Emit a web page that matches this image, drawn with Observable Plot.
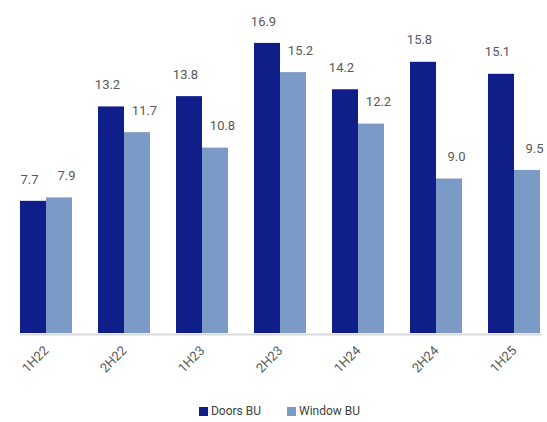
<!DOCTYPE html>
<html>
<head>
<meta charset="utf-8">
<script src="https://cdn.jsdelivr.net/npm/d3@7"></script>
<script src="https://cdn.jsdelivr.net/npm/@observablehq/plot@0.6"></script>
<style>
  html, body { margin: 0; padding: 0; background: #fff; overflow: hidden; }
  #wrap { position: relative; width: 547px; height: 422px; font-family: Roboto, sans-serif; }
  #legend { position: absolute; top: 403px; left: 0; width: 547px; padding-left: 12px; box-sizing: border-box;
            display: flex; justify-content: center; gap: 26px; font-size: 12px; color: #404040; line-height: 16px; }
  .item { display: flex; align-items: center; gap: 3px; }
  .sw { width: 9px; height: 9px; display: inline-block; }
</style>
</head>
<body>
<div id="wrap"><div id="chart"></div><div id="legend"></div></div>
<script>
const categories = ["1H22", "2H22", "1H23", "2H23", "1H24", "2H24", "1H25"];
const series = ["Doors BU", "Window BU"];
const doors = [7.7, 13.2, 13.8, 16.9, 14.2, 15.8, 15.1];
const windows = [7.9, 11.7, 10.8, 15.2, 12.2, 9.0, 9.5];
const colors = ["#0f1e88", "#7b9bc6"];

const data = categories.flatMap((c, i) => [
  {cat: c, series: series[0], value: doors[i]},
  {cat: c, series: series[1], value: windows[i]}
]);

const chart = Plot.plot({
  width: 547,
  height: 385,
  marginLeft: 7,
  marginRight: -6,
  marginTop: 0,
  marginBottom: 52,
  style: {fontFamily: "Roboto, sans-serif", background: "white"},
  fx: {domain: categories, paddingInner: 1/3, paddingOuter: 1/6, label: null},
  x: {domain: series, padding: 0, axis: null},
  y: {domain: [0, 19.4], axis: null},
  color: {domain: series, range: colors},
  marks: [
    Plot.barY(data, {fx: "cat", x: "series", y: "value", fill: "series"}),
    Plot.frame({anchor: "bottom", stroke: "#d9d9d9", strokeWidth: 2, dy: 1, facet: "super"}),
    Plot.text(data.filter(d => d.series === series[0]), {fx: "cat", x: "series", y: "value", text: d => d.value.toFixed(1), dy: -22, dx: -4, fill: "#595959", fontSize: 13}),
    Plot.text(data.filter(d => d.series === series[1]), {fx: "cat", x: "series", y: "value", text: d => d.value.toFixed(1), dy: -22, dx: 7, fill: "#595959", fontSize: 13}),
    Plot.axisFx({anchor: "bottom", tickRotate: -45, tickSize: 0, tickPadding: 15, fontSize: 13, fill: "#595959", label: null})
  ]
});
document.getElementById("chart").appendChild(chart);

const legend = document.getElementById("legend");
series.forEach((s, i) => {
  const item = document.createElement("div");
  item.className = "item";
  const sw = document.createElement("span");
  sw.className = "sw";
  sw.style.background = colors[i];
  const t = document.createElement("span");
  t.textContent = s;
  item.appendChild(sw);
  item.appendChild(t);
  legend.appendChild(item);
});
</script>
</body>
</html>
